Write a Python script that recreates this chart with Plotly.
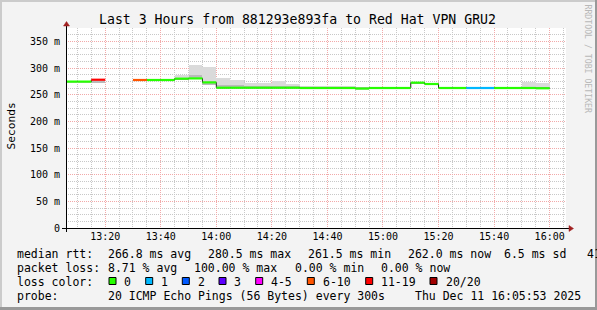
import plotly.graph_objects as go
from datetime import datetime, timedelta

# ---------------- data ----------------
DAY = "2025-12-11 "
slot_starts = ["13:05", "13:10", "13:15", "13:20", "13:25", "13:30", "13:35", "13:40",
               "13:45", "13:50", "13:55", "14:00", "14:05", "14:10", "14:15", "14:20",
               "14:25", "14:30", "14:35", "14:40", "14:45", "14:50", "14:55", "15:00",
               "15:05", "15:10", "15:15", "15:20", "15:25", "15:30", "15:35", "15:40",
               "15:45", "15:50", "15:55"]
median_ms = [274.5, 274.5, 278.0, None, None, 277.5, 277.5, 277.5,
             280.0, 280.5, 273.0, 263.0, 263.0, 263.0, 263.0, 263.0,
             263.0, 262.5, 262.5, 262.5, 262.5, 261.5, 262.5, 262.5,
             262.5, 272.5, 270.0, 262.5, 262.5, 262.5, 262.5, 262.5,
             262.5, 262.5, 262.0]
loss_bucket = ["0", "0", "11-19", "20/20", "20/20", "6-10", "0", "0",
               "0", "0", "0", "0", "0", "0", "0", "0",
               "0", "0", "0", "0", "0", "0", "0", "0",
               "0", "0", "0", "0", "0", "1", "1", "0",
               "0", "0", "0"]
smoke_lo = [273.5, 273.5, 271.0, None, None, 276.5, 276.5, 276.5,
            278.0, 279.0, 269.0, 262.0, 262.0, 262.0, 262.0, 262.0,
            262.0, 261.5, 261.0, 261.5, 261.0, 260.5, 261.5, 261.0,
            261.5, 269.5, 268.5, 261.5, 261.5, 261.5, 261.5, 261.5,
            261.5, 261.5, 261.5]
smoke_hi = [275.5, 275.5, 279.0, None, None, 278.5, 278.5, 279.0,
            286.5, 306.0, 302.0, 282.0, 277.5, 272.0, 272.0, 276.0,
            270.0, 266.0, 266.0, 266.0, 266.0, 264.0, 265.0, 265.0,
            264.5, 274.0, 271.5, 264.0, 264.0, 264.0, 264.0, 264.0,
            264.0, 273.5, 271.3]
core_lo = [274.0, 274.0, 272.0, None, None, 277.0, 277.0, 277.0,
           279.0, 283.5, 269.0, 262.5, 262.5, 262.5, 262.5, 262.5,
           262.5, 262.0, 261.5, 262.0, 261.5, 261.0, 262.0, 261.5,
           262.0, 270.0, 269.0, 262.0, 262.0, 262.0, 262.0, 262.0,
           262.0, 262.0, 262.0]
core_hi = [275.0, 275.0, 274.0, None, None, 278.0, 278.0, 278.0,
           281.0, 287.5, 271.5, 268.5, 269.0, 266.0, 266.0, 267.0,
           265.0, 264.0, 264.5, 264.0, 264.5, 263.0, 263.5, 264.0,
           263.5, 272.5, 270.5, 263.5, 263.5, 263.5, 263.5, 263.5,
           263.5, 265.0, 264.0]

loss_labels = ["0", "1", "2", "3", "4-5", "6-10", "11-19", "20/20"]
loss_colors = ["#26ff00", "#00b8ff", "#0059ff", "#5e00ff", "#ff00ff", "#ff5500", "#ff0000", "#a10000"]

y_tick_vals = [0, 50, 100, 150, 200, 250, 300, 350]
y_tick_text = ["0", "50 m", "100 m", "150 m", "200 m", "250 m", "300 m", "350 m"]

title_text = "Last 3 Hours from 881293e893fa to Red Hat VPN GRU2"
stats_rtt = ["median rtt:", "266.8 ms avg", "280.5 ms max", "261.5 ms min", "262.0 ms now", "6.5 ms sd", "41"]
stats_loss = ["packet loss:", "8.71 % avg", "100.00 % max", "0.00 % min", "0.00 % now"]
probe_text = ["probe:", "20 ICMP Echo Pings (56 Bytes) every 300s", "Thu Dec 11 16:05:53 2025"]

STEP = 300  # seconds
range_start = DAY + "13:05:53"
range_end = DAY + "16:05:53"

# ---------------- layout geometry ----------------
W, H = 597, 310
L, T, PW, PH = 66, 28, 500, 200
MONO = "DejaVu Sans Mono"


def px(x):
    return (x - L) / PW


def py(y):
    return (T + PH - y) / PH


def t_of(s):
    return datetime.strptime(DAY + s, "%Y-%m-%d %H:%M")


fig = go.Figure()

# smoke (light layer then core)
centers, bases, heights, cbases, cheights = [], [], [], [], []
for s, lo, hi, clo, chi in zip(slot_starts, smoke_lo, smoke_hi, core_lo, core_hi):
    if lo is None:
        continue
    c = t_of(s) + timedelta(seconds=STEP / 2)
    centers.append(c)
    bases.append(lo)
    heights.append(hi - lo)
    cbases.append(clo)
    cheights.append(chi - clo)

fig.add_trace(go.Bar(x=centers, y=heights, base=bases, width=STEP * 1000,
                     marker=dict(color="#dadada", line=dict(width=0)), hoverinfo="skip"))
fig.add_trace(go.Bar(x=centers, y=cheights, base=cbases, width=STEP * 1000,
                     marker=dict(color="#bababa", line=dict(width=0)), hoverinfo="skip"))

# thin dark step line
sx, sy = [], []
for s, m in zip(slot_starts, median_ms):
    sx.append(t_of(s))
    sy.append(m)
sx.append(t_of(slot_starts[-1]) + timedelta(seconds=STEP))
sy.append(median_ms[-1])
fig.add_trace(go.Scatter(x=sx, y=sy, mode="lines", line=dict(color="#202020", width=1, shape="hv"),
                         connectgaps=False, hoverinfo="skip"))

# coloured median segments by loss
for lab, col in zip(loss_labels, loss_colors):
    xs, ys = [], []
    for s, m, b in zip(slot_starts, median_ms, loss_bucket):
        if m is None or b != lab:
            continue
        t0 = t_of(s)
        xs += [t0, t0 + timedelta(seconds=STEP), None]
        ys += [m, m, None]
    if xs:
        fig.add_trace(go.Scatter(x=xs, y=ys, mode="lines", line=dict(color=col, width=2.2),
                                 connectgaps=False, hoverinfo="skip"))

MAJ = "#f2a9a9"
MIN = "#c8c8c8"
fig.update_layout(
    width=W, height=H,
    margin=dict(l=L, r=W - L - PW, t=T, b=H - T - PH),
    paper_bgcolor="#f3f3f3", plot_bgcolor="#ffffff",
    showlegend=False, barmode="overlay", bargap=0,
    font=dict(family=MONO, color="#000000"),
    xaxis=dict(type="date", range=[range_start, range_end], tickformat="%H:%M",
               tick0=DAY + "13:00:00", dtick=1200000, showgrid=True, gridcolor=MAJ,
               griddash="1px,1px", gridwidth=1, zeroline=False, showline=False, ticks="",
               ticklabelstandoff=1,
               tickfont=dict(family=MONO, size=10, color="#000"),
               minor=dict(showgrid=True, dtick=300000, tick0=DAY + "13:00:00",
                          gridcolor=MIN, griddash="1px,1px", gridwidth=1)),
    yaxis=dict(range=[0, 375], tickvals=y_tick_vals, ticktext=y_tick_text,
               showgrid=True, gridcolor=MAJ, griddash="1px,1px", gridwidth=1,
               zeroline=False, showline=False, ticks="",
               ticklabelstandoff=5,
               tickfont=dict(family=MONO, size=10, color="#000"),
               minor=dict(showgrid=True, dtick=12.5, tick0=0,
                          gridcolor=MIN, griddash="1px,1px", gridwidth=1)),
)

shapes = []
# axis lines
shapes.append(dict(type="line", xref="paper", yref="paper", x0=px(62), x1=px(570), y0=py(228.5), y1=py(228.5),
                   line=dict(color="#000", width=1)))
shapes.append(dict(type="line", xref="paper", yref="paper", x0=px(66.5), x1=px(66.5), y0=py(232), y1=py(25),
                   line=dict(color="#000", width=1)))
# arrows
shapes.append(dict(type="path", xref="paper", yref="paper",
                   path=f"M {px(569)} {py(225.5)} L {px(573.5)} {py(228.5)} L {px(569)} {py(231.5)} Z",
                   fillcolor="#a02020", line=dict(color="#a02020", width=0.5)))
shapes.append(dict(type="path", xref="paper", yref="paper",
                   path=f"M {px(63.5)} {py(26)} L {px(66.5)} {py(21.5)} L {px(69.5)} {py(26)} Z",
                   fillcolor="#a02020", line=dict(color="#a02020", width=0.5)))
# frame shading
shapes.append(dict(type="line", xref="paper", yref="paper", x0=px(0), x1=px(W), y0=py(1), y1=py(1),
                   line=dict(color="#cbcbcb", width=2)))
shapes.append(dict(type="line", xref="paper", yref="paper", x0=px(1), x1=px(1), y0=py(0), y1=py(H),
                   line=dict(color="#cbcbcb", width=2)))
shapes.append(dict(type="line", xref="paper", yref="paper", x0=px(0), x1=px(W), y0=py(H - 1.5), y1=py(H - 1.5),
                   line=dict(color="#999999", width=3)))
shapes.append(dict(type="line", xref="paper", yref="paper", x0=px(W - 1), x1=px(W - 1), y0=py(0), y1=py(H),
                   line=dict(color="#999999", width=2)))

# legend squares
sq_left = [109, 145.7, 182.3, 219, 255.7, 307.3, 365.7, 430]
lab_left = [123.3, 160, 196.7, 233.3, 270, 322.3, 380, 445]
for xl, col in zip(sq_left, loss_colors):
    shapes.append(dict(type="rect", xref="paper", yref="paper", x0=px(xl), x1=px(xl + 7),
                       y0=py(284.5), y1=py(277.5), fillcolor=col, line=dict(color="#000", width=1)))

ann = []


def text(x, y, s, size=11.5, anchor="left", color="#000", angle=0, family=MONO):
    ann.append(dict(xref="paper", yref="paper", x=px(x), y=py(y), text=s.replace(" ", "\u00a0"),
                    showarrow=False, xanchor=anchor, yanchor="middle", textangle=angle,
                    font=dict(family=family, size=size, color=color), borderpad=0))


text(297.5, 19, title_text, size=13.2, anchor="center")
text(11, 126.5, "Seconds", size=11.2, anchor="center", angle=-90)
text(587.5, 59, "RRDTOOL / TOBI OETIKER", size=8.2, anchor="center", angle=90, color="#b8b8b8")

for s, x in zip(stats_rtt, [16, 107.3, 207.3, 307.3, 407.3, 503, 586]):
    text(x, 254, s)
for s, x in zip(stats_loss, [16, 107.3, 193.3, 294, 380]):
    text(x, 268, s)
text(16, 281.5, "loss color:")
for s, x in zip(loss_labels, lab_left):
    text(x, 281.5, s)
for s, x in zip(probe_text, [16, 107.3, 414]):
    text(x, 295.5, s)

fig.update_layout(shapes=shapes, annotations=ann)
fig.write_html("out.html")
